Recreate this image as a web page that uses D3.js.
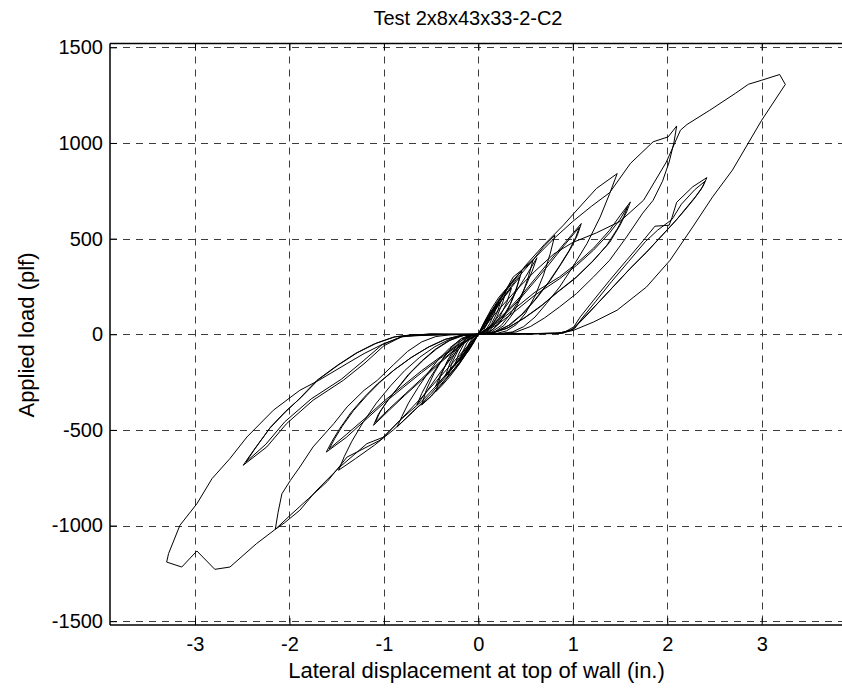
<!DOCTYPE html>
<html>
<head>
<meta charset="utf-8">
<script src="https://cdn.jsdelivr.net/npm/d3@7"></script>
<style>
  html, body { margin: 0; padding: 0; background: #fff; }
  svg { display: block; }
  text { font-family: "Liberation Sans", Arial, sans-serif; fill: #000; }
</style>
</head>
<body>
<svg id="chart" width="842" height="688"></svg>
<script>
// ---------- data (displacement in., load plf) ----------
const chartTitle = "Test 2x8x43x33-2-C2";
const xLabel = "Lateral displacement at top of wall (in.)";
const yLabel = "Applied load (plf)";
const xTicks = [-3, -2, -1, 0, 1, 2, 3];
const yTicks = [-1500, -1000, -500, 0, 500, 1000, 1500];

// each cycle: positive loading, unloading, negative loading, unloading
const cycle01 = [[0,0],[0.04,35],[0.08,65],[0.12,90],[0.1,60],[0.06,25],[0.03,5],[0,0],
  [-0.04,-30],[-0.08,-58],[-0.12,-80],[-0.1,-50],[-0.06,-20],[-0.03,-4],[0,0]];
const cycle02 = [[0.05,50],[0.1,95],[0.15,130],[0.2,160],[0.17,110],[0.12,55],[0.07,15],[0.03,2],[0,0],
  [-0.05,-45],[-0.1,-85],[-0.15,-115],[-0.2,-140],[-0.17,-95],[-0.12,-45],[-0.07,-12],[-0.03,-1],[0,0]];
const cycle03 = [[0.07,70],[0.14,135],[0.22,195],[0.3,240],[0.26,170],[0.2,95],[0.13,35],[0.07,8],[0,0],
  [-0.08,-65],[-0.16,-125],[-0.24,-180],[-0.32,-220],[-0.28,-150],[-0.21,-80],[-0.14,-28],[-0.07,-5],[0,0]];
const cycle04 = [[0.06,45],[0.12,95],[0.18,140],[0.24,175],[0.2,115],[0.14,55],[0.08,14],[0,0],
  [-0.06,-40],[-0.13,-90],[-0.19,-130],[-0.25,-165],[-0.21,-105],[-0.15,-48],[-0.08,-10],[0,0]];
const cycle05 = [[0.1,90],[0.2,170],[0.3,240],[0.38,290],[0.46,330],[0.41,250],[0.34,160],[0.25,80],[0.16,28],[0.08,5],[0,0],
  [-0.1,-80],[-0.2,-155],[-0.3,-220],[-0.38,-265],[-0.45,-300],[-0.4,-220],[-0.33,-140],[-0.24,-65],[-0.15,-20],[-0.07,-3],[0,0]];
const cycle06 = [[0.06,35],[0.14,100],[0.22,160],[0.29,205],[0.35,240],[0.3,165],[0.22,85],[0.14,30],[0.07,5],[0,0],
  [-0.07,-35],[-0.15,-95],[-0.23,-150],[-0.3,-190],[-0.35,-220],[-0.3,-150],[-0.22,-75],[-0.14,-25],[-0.06,-3],[0,0]];
const cycle07 = [[0.1,80],[0.2,160],[0.3,235],[0.4,300],[0.5,355],[0.58,390],[0.53,300],[0.46,200],[0.37,110],[0.27,45],[0.17,12],[0.08,2],[0,0],
  [-0.1,-70],[-0.2,-145],[-0.3,-210],[-0.4,-270],[-0.5,-325],[-0.6,-370],[-0.55,-290],[-0.47,-205],[-0.38,-130],[-0.28,-65],[-0.18,-22],[-0.08,-3],[0,0]];
const cycle08 = [[0.08,45],[0.16,110],[0.25,180],[0.35,245],[0.44,300],[0.39,215],[0.31,125],[0.22,55],[0.13,15],[0.06,2],[0,0],
  [-0.08,-40],[-0.17,-100],[-0.26,-160],[-0.36,-220],[-0.45,-270],[-0.4,-210],[-0.32,-140],[-0.23,-75],[-0.13,-25],[-0.06,-4],[0,0]];
const cycle09 = [[0.1,85],[0.2,165],[0.27,213],[0.37,300],[0.55,371],[0.69,457],[0.81,518],[0.76,420],[0.69,310],[0.6,200],[0.5,110],[0.4,50],[0.3,18],[0.2,5],[0.1,1],[0,0],
  [-0.1,-75],[-0.2,-150],[-0.3,-206],[-0.51,-328],[-0.68,-397],[-0.86,-485],[-0.81,-430],[-0.74,-360],[-0.64,-280],[-0.53,-200],[-0.42,-130],[-0.3,-70],[-0.18,-25],[-0.08,-4],[0,0]];
const cycle10 = [[0.08,20],[0.16,60],[0.26,125],[0.37,200],[0.5,300],[0.62,400],[0.57,330],[0.5,250],[0.42,170],[0.33,100],[0.24,45],[0.14,12],[0,0],
  [-0.08,-18],[-0.17,-55],[-0.27,-115],[-0.39,-190],[-0.52,-280],[-0.65,-370],[-0.6,-310],[-0.52,-235],[-0.43,-165],[-0.33,-100],[-0.22,-45],[-0.1,-10],[0,0]];
const cycle11 = [[0.15,120],[0.3,230],[0.5,360],[0.7,470],[0.9,570],[1.01,631],[1.25,762],[1.47,840],[1.39,735],[1.29,613],[1.15,474],[1.0,352],[0.86,247],[0.72,160],[0.6,90],[0.48,40],[0.36,12],[0.22,3],[0,0],
  [-0.15,-100],[-0.3,-195],[-0.5,-310],[-0.7,-410],[-0.9,-500],[-1.1,-580],[-1.3,-650],[-1.48,-711],[-1.42,-640],[-1.34,-560],[-1.22,-460],[-1.08,-360],[-0.93,-270],[-0.78,-190],[-0.62,-120],[-0.46,-65],[-0.3,-25],[-0.15,-5],[0,0]];
const cycle12 = [[0.15,50],[0.3,120],[0.45,200],[0.6,290],[0.75,380],[0.92,480],[1.09,579],[1.05,520],[0.98,450],[0.88,370],[0.76,280],[0.62,190],[0.48,110],[0.34,50],[0.2,15],[0.08,2],[0,0],
  [-0.15,-45],[-0.3,-105],[-0.45,-170],[-0.6,-240],[-0.78,-320],[-0.95,-400],[-1.11,-476],[-1.06,-420],[-0.98,-360],[-0.87,-290],[-0.74,-210],[-0.6,-140],[-0.46,-80],[-0.32,-35],[-0.18,-8],[0,0]];
const cycle12b = [[0.15,45],[0.3,112],[0.45,190],[0.6,278],[0.75,366],[0.91,465],[1.07,560],[1.03,505],[0.96,437],[0.86,358],[0.74,270],[0.6,182],[0.46,104],[0.32,46],[0.18,13],[0.07,2],[0,0],
  [-0.15,-42],[-0.3,-100],[-0.45,-163],[-0.6,-232],[-0.77,-310],[-0.94,-388],[-1.09,-460],[-1.04,-405],[-0.96,-347],[-0.85,-280],[-0.72,-202],[-0.58,-134],[-0.44,-76],[-0.3,-32],[-0.16,-7],[0,0]];
const cycle13 = [[0.2,150],[0.4,285],[0.6,400],[0.8,500],[1.0,590],[1.2,670],[1.39,740],[1.61,893],[1.85,1006],[2.01,1032],[2.1,1089],[2.07,1000],[2.02,900],[1.95,800],[1.85,700],[1.74,633],[1.57,509],[1.39,387],[1.22,300],[1.04,213],[0.86,143],[0.7,85],[0.55,40],[0.4,12],[0.25,3],[0,0],
  [-0.2,-130],[-0.4,-245],[-0.6,-350],[-0.83,-450],[-1.04,-554],[-1.39,-642],[-1.6,-770],[-1.8,-860],[-2.0,-950],[-2.15,-1020],[-2.12,-930],[-2.08,-834],[-1.99,-764],[-1.89,-694],[-1.75,-589],[-1.53,-467],[-1.39,-380],[-1.21,-293],[-1.07,-241],[-0.9,-160],[-0.75,-90],[-0.6,-40],[-0.45,-12],[-0.3,-3],[0,0]];
const cycle14 = [[0.2,60],[0.4,140],[0.6,220],[0.86,300],[1.04,370],[1.22,450],[1.39,544],[1.5,620],[1.61,692],[1.57,640],[1.5,570],[1.39,480],[1.22,387],[1.04,300],[0.86,230],[0.68,155],[0.5,90],[0.32,35],[0.16,8],[0,0],
  [-0.2,-55],[-0.4,-125],[-0.6,-200],[-0.8,-280],[-1.0,-360],[-1.2,-450],[-1.4,-540],[-1.61,-616],[-1.55,-560],[-1.47,-495],[-1.35,-410],[-1.21,-330],[-1.07,-260],[-0.9,-190],[-0.72,-125],[-0.54,-70],[-0.36,-28],[-0.18,-5],[0,0]];
const cycle14b = [[0.2,50],[0.4,125],[0.6,205],[0.86,290],[1.04,360],[1.22,440],[1.39,530],[1.5,600],[1.58,668],[1.54,615],[1.47,550],[1.36,465],[1.2,375],[1.02,290],[0.84,220],[0.66,145],[0.48,82],[0.3,30],[0.14,6],[0,0],
  [-0.2,-50],[-0.4,-118],[-0.6,-190],[-0.8,-270],[-1.0,-350],[-1.2,-440],[-1.4,-525],[-1.58,-600],[-1.52,-545],[-1.44,-480],[-1.32,-398],[-1.18,-320],[-1.04,-250],[-0.88,-182],[-0.7,-118],[-0.52,-65],[-0.34,-25],[-0.16,-4],[0,0]];
const cycle15 = [[0.2,120],[0.4,230],[0.6,330],[0.8,420],[1.0,480],[1.25,530],[1.5,590],[1.75,701],[1.99,900],[2.14,1067],[2.21,1097],[2.45,1171],[2.72,1259],[2.86,1307],[3.0,1328],[3.19,1358],[3.25,1306],
  [3.0,1119],[2.69,858],[2.48,718],[2.27,561],[2.03,387],[1.78,247],[1.47,126],[1.22,64],[1.01,21],[0.86,4],[0.5,2],[0,0],
  [-0.2,-110],[-0.4,-220],[-0.6,-330],[-0.83,-450],[-1.0,-537],[-1.18,-572],[-1.48,-700],[-1.72,-820],[-1.89,-920],[-2.05,-985],[-2.15,-1020],[-2.35,-1095],[-2.63,-1217],[-2.79,-1229],[-2.98,-1133],[-3.14,-1217],[-3.3,-1191],
  [-3.28,-1147],[-3.16,-999],[-2.98,-886],[-2.82,-755],[-2.63,-650],[-2.45,-537],[-2.17,-397],[-1.89,-293],[-1.69,-241],[-1.57,-206],[-1.39,-153],[-1.21,-101],[-1.0,-49],[-0.81,-14],[-0.51,3],[0,0]];
const cycle16 = [[0.5,2],[0.9,8],[1.01,38],[1.08,91],[1.22,178],[1.39,282],[1.57,387],[1.75,492],[1.87,565],[2.02,570],[2.05,610],[2.1,690],[2.27,771],[2.42,819],
  [2.38,775],[2.3,720],[2.2,660],[2.1,600],[1.95,520],[1.8,440],[1.62,350],[1.45,260],[1.28,170],[1.12,85],[1.0,25],[0.85,5],[0,0],
  [-0.4,-3],[-0.8,-10],[-1.0,-60],[-1.2,-150],[-1.43,-241],[-1.75,-345],[-2.03,-467],[-2.24,-589],[-2.49,-685],
  [-2.38,-607],[-2.21,-493],[-2.05,-410],[-1.9,-340],[-1.71,-241],[-1.5,-165],[-1.3,-100],[-1.1,-50],[-0.9,-15],[-0.7,-3],[0,0]];
const cycle16b = [[0.5,2],[0.9,6],[1.02,30],[1.1,85],[1.24,170],[1.41,275],[1.59,380],[1.77,485],[1.9,545],[2.05,600],[2.15,680],[2.29,755],[2.4,800],
  [2.36,758],[2.28,705],[2.18,645],[2.08,588],[1.93,508],[1.78,428],[1.6,340],[1.43,250],[1.26,160],[1.1,78],[0.98,20],[0.83,4],[0,0],
  [-0.4,-2],[-0.8,-10],[-1.02,-55],[-1.22,-140],[-1.45,-235],[-1.77,-338],[-2.05,-458],[-2.25,-575],[-2.46,-668],
  [-2.36,-595],[-2.2,-485],[-2.04,-402],[-1.88,-332],[-1.69,-236],[-1.48,-160],[-1.28,-96],[-1.08,-47],[-0.88,-13],[-0.68,-2],[0,0]];

const cycles = [cycle01, cycle02, cycle03, cycle04, cycle05, cycle06, cycle07, cycle08,
                cycle09, cycle10, cycle11, cycle12, cycle12b, cycle13, cycle14, cycle14b,
                cycle15, cycle16, cycle16b];

// ---------- drawing ----------
const svg = d3.select("#chart");
const mLeft = 110, mTop = 43.5, mBottom = 625, mRight = 846.7;

const x = d3.scaleLinear().domain([-3.9, 3.9]).range([mLeft, mRight]);
const y = d3.scaleLinear().domain([-1520, 1520]).range([mBottom, mTop]);

const grid = svg.append("g").attr("stroke", "#3c3c3c").attr("stroke-width", 1)
  .attr("stroke-dasharray", "7,6").attr("fill", "none");
grid.selectAll(".gx").data(xTicks).join("line")
  .attr("x1", d => Math.round(x(d)) + 0.5).attr("x2", d => Math.round(x(d)) + 0.5)
  .attr("y1", mTop).attr("y2", mBottom);
grid.selectAll(".gy").data(yTicks).join("line")
  .attr("y1", d => Math.round(y(d)) + 0.5).attr("y2", d => Math.round(y(d)) + 0.5)
  .attr("x1", mLeft).attr("x2", 842);

// data trace
const trace = [].concat(...cycles);
const line = d3.line().x(d => x(d[0])).y(d => y(d[1]));
svg.append("path").datum(trace)
  .attr("d", line).attr("fill", "none").attr("stroke", "#000")
  .attr("stroke-width", 1).attr("stroke-linejoin", "round");

// axes
const fmt = d => String(d);
const xAxisB = d3.axisBottom(x).tickValues(xTicks).tickSize(-7).tickPadding(12).tickFormat(fmt);
const xAxisT = d3.axisTop(x).tickValues(xTicks).tickSize(-7).tickFormat("");
const yAxisL = d3.axisLeft(y).tickValues(yTicks).tickSize(-7).tickPadding(7).tickFormat(fmt);

function styleAxis(g) {
  g.select(".domain").remove();
  g.selectAll(".tick line").attr("stroke", "#000").attr("stroke-width", 1);
  g.selectAll(".tick text").attr("font-size", 20).attr("fill", "#000")
    .attr("font-family", "Liberation Sans, Arial, sans-serif");
}
svg.append("g").attr("transform", `translate(0,${mBottom})`).call(xAxisB).call(styleAxis);
svg.append("g").attr("transform", `translate(0,${mTop})`).call(xAxisT).call(styleAxis);
svg.append("g").attr("transform", `translate(${mLeft},0)`).call(yAxisL).call(styleAxis);

// box lines (left, top, bottom)
svg.append("line").attr("x1", mLeft).attr("x2", mLeft).attr("y1", mTop).attr("y2", mBottom)
  .attr("stroke", "#000").attr("stroke-width", 1.5);
svg.append("line").attr("x1", mLeft).attr("x2", 842).attr("y1", mTop).attr("y2", mTop)
  .attr("stroke", "#000").attr("stroke-width", 1.5);
svg.append("line").attr("x1", mLeft).attr("x2", 842).attr("y1", mBottom).attr("y2", mBottom)
  .attr("stroke", "#000").attr("stroke-width", 1.5);

// titles
svg.append("text").attr("x", 468).attr("y", 25).attr("text-anchor", "middle")
  .attr("font-size", 20).text(chartTitle);
svg.append("text").attr("x", 476.5).attr("y", 678).attr("text-anchor", "middle")
  .attr("font-size", 22).text(xLabel);
svg.append("text").attr("transform", "translate(34,335) rotate(-90)").attr("text-anchor", "middle")
  .attr("font-size", 22).text(yLabel);
</script>
</body>
</html>
